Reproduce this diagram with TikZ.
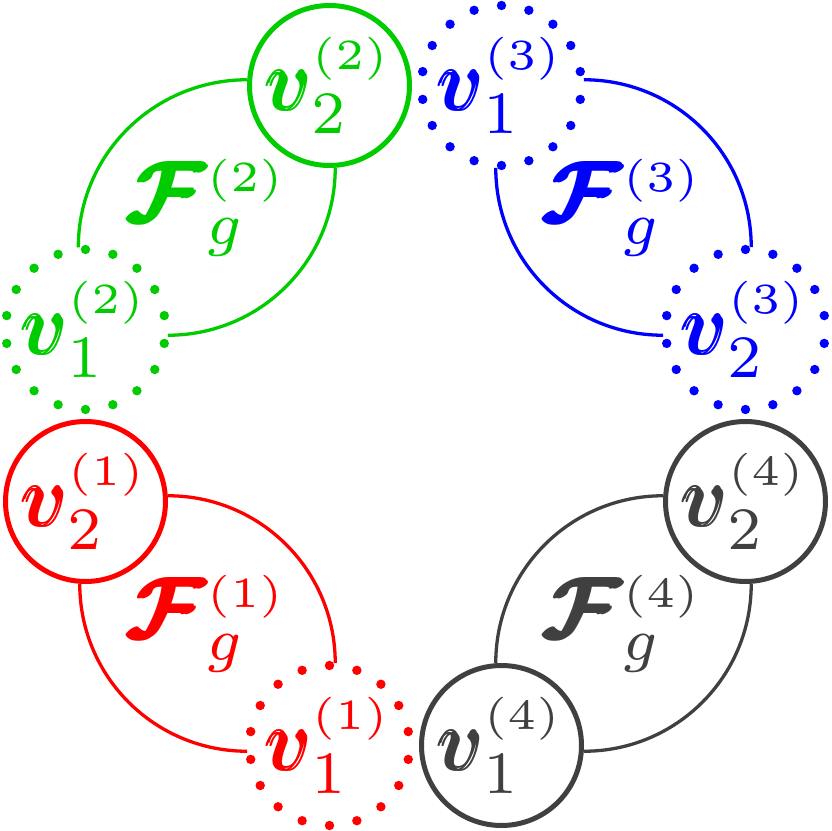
\documentclass[tikz,border=0pt]{standalone}
\usepackage{amsmath}
\usepackage{graphicx}
\definecolor{cred}{RGB}{255,0,0}
\definecolor{cgreen}{RGB}{0,204,0}
\definecolor{cblue}{RGB}{0,0,255}
\definecolor{cgray}{RGB}{64,64,64}
\newcommand{\mylab}[3]{\scalebox{4.3}{$#1_{#2}^{\scriptscriptstyle(#3)}$}}
\newcommand{\myv}{\pmb{v}}
\newcommand{\myF}{\pmb{\boldsymbol{\mathcal{F}}}}
\tikzset{
  vsolid/.style={circle, draw, line width=2.5pt, minimum size=80pt, inner sep=0pt, outer sep=1.25pt},
  vdotted/.style={circle, draw, line width=4.7pt, line cap=round,
    dash pattern=on 0pt off 13.963pt, dash phase=6.98pt,
    minimum size=80pt, inner sep=0pt, outer sep=1.25pt},
  lens/.style={line width=1.65pt},
}
\begin{document}
\begin{tikzpicture}[x=0.5pt,y=0.5pt]
\useasboundingbox (-415.5,-415.5) rectangle (415.5,415.5);
% vertices
\node[vsolid, color=cred]    (r2) at (-330,-86) {\mylab{\myv}{2}{1}};
\node[vdotted, color=cred]   (r1) at (-86,-330) {\mylab{\myv}{1}{1}};
\node[vsolid, color=cgray]   (k1) at (86,-330)  {\mylab{\myv}{1}{4}};
\node[vsolid, color=cgray]   (k2) at (330,-86)  {\mylab{\myv}{2}{4}};
\node[vdotted, color=cblue]  (b2) at (330,86)   {\mylab{\myv}{2}{3}};
\node[vdotted, color=cblue]  (b1) at (86,330)   {\mylab{\myv}{1}{3}};
\node[vsolid, color=cgreen]  (g2) at (-86,330)  {\mylab{\myv}{2}{2}};
\node[vdotted, color=cgreen] (g1) at (-330,86)  {\mylab{\myv}{1}{2}};
% factor labels
\node[color=cred]   (fr) at (-208,-208) {\mylab{\myF}{g}{1}};
\node[color=cgreen] (fg) at (-208,208)  {\mylab{\myF}{g}{2}};
\node[color=cblue]  (fb) at (208,208)   {\mylab{\myF}{g}{3}};
\node[color=cgray]  (fk) at (208,-208)  {\mylab{\myF}{g}{4}};
% lens arcs
\draw[lens, cred]   (r2.4)   to[out=0,in=90]    (r1.86);
\draw[lens, cred]   (r2.266) to[out=-90,in=180] (r1.184);
\draw[lens, cgreen] (g1.95)  to[out=90,in=180]  (g2.176);
\draw[lens, cgreen] (g1.-4)  to[out=0,in=-90]   (g2.-86);
\draw[lens, cblue]  (b1.4)   to[out=0,in=90]    (b2.86);
\draw[lens, cblue]  (b1.266) to[out=-90,in=180] (b2.184);
\draw[lens, cgray]  (k1.94)  to[out=90,in=180]  (k2.176);
\draw[lens, cgray]  (k1.-4)  to[out=0,in=-90]   (k2.-86);
\end{tikzpicture}
\end{document}
